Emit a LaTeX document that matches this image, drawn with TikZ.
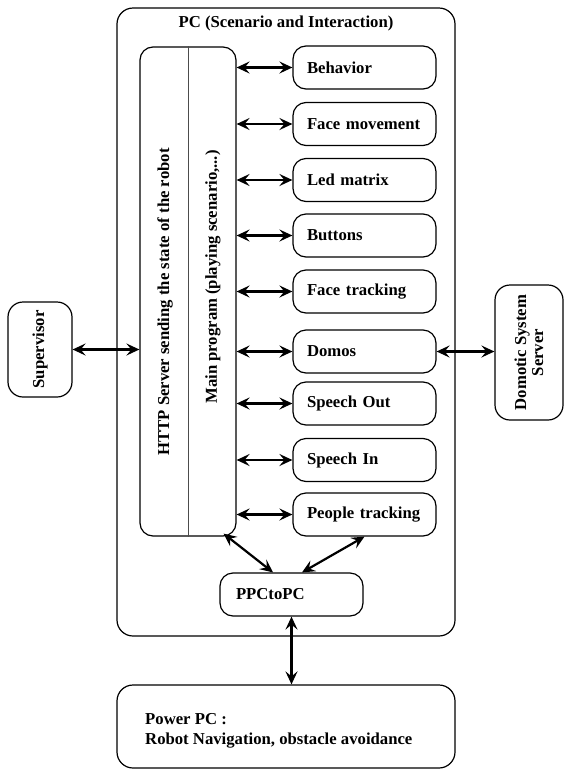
\documentclass[tikz,border=0pt]{standalone}
\usepackage{fontspec}
\setmainfont{Liberation Serif}
\usetikzlibrary{arrows.meta,calc}
\begin{document}
\begin{tikzpicture}[x=1pt,y=-1pt,
  font=\fontsize{16.7}{19}\selectfont\bfseries,
  box/.style={draw, line width=1.2pt, rounded corners=13pt, inner sep=0pt},
  modbox/.style={box, minimum width=143pt, minimum height=43pt, text width=115pt, align=left, inner xsep=14pt},
  arr/.style={line width=2.2pt, {Stealth[length=13pt,width=12pt,inset=5pt]}-{Stealth[length=13pt,width=12pt,inset=5pt]}}]
\useasboundingbox (0,0) rectangle (564,769);
% PC box
\node[box, rounded corners=16pt, minimum width=338pt, minimum height=628pt] (pc) at (286,322) {};
\node (pctitle) at (286,23) {PC (Scenario and Interaction)};
% main column box
\node[box, minimum width=96pt, minimum height=489pt] (main) at (188,291.5) {};
\draw[line width=0.8pt, black!70] (main.north) -- (main.south);
\node[rotate=90] (http) at (165,302) {HTTP Server sending the state of the robot};
\node[rotate=90] (mainprog) at (213,277) {Main program (playing scenario,...)};
% modules
\node[modbox] (beh) at (364.5,67.5) {Behavior};
\node[modbox] (fmv) at (364.5,124) {Face movement};
\node[modbox] (led) at (364.5,180) {Led matrix};
\node[modbox] (but) at (364.5,235.5) {Buttons};
\node[modbox] (ftr) at (364.5,291.5) {Face tracking};
\node[modbox] (dom) at (364.5,351.5) {Domos};
\node[modbox] (sout) at (364.5,403.5) {Speech Out};
\node[modbox] (sin) at (364.5,460) {Speech In};
\node[modbox] (ppl) at (364.5,514.5) {People tracking};
\foreach \m in {beh,fmv,led,but,ftr,dom,sout,sin,ppl}
  \draw[arr] (main.east |- \m.west) -- (\m.west);
% supervisor
\node[box, rounded corners=15pt, minimum width=64pt, minimum height=95pt] (sup) at (40,349.5) {};
\node[rotate=90] (suptxt) at (sup.center) {Supervisor};
\draw[arr] (sup.east) -- (main.west |- sup.east);
% domotic
\node[box, rounded corners=15pt, minimum width=68pt, minimum height=135pt] (dss) at (529,352.5) {};
\node[rotate=90, align=center, font=\fontsize{16.7}{17}\selectfont\bfseries] (dsstxt) at (dss.center) {Domotic System\\Server};
\draw[arr] (dom.east) -- (dss.west |- dom.east);
% PPCtoPC
\node[modbox] (ppc) at (291.5,594.5) {\hspace*{2pt}PPCtoPC};
\draw[arr] ($(main.south east)+(-13,-3)$) -- ($(ppc.north)+(-18.5,0)$);
\draw[arr] (ppl.south) -- ($(ppc.north)+(10.5,0)$);
% Power PC
\node[box, rounded corners=16pt, minimum width=338pt, minimum height=83pt] (power) at (286,726.5) {};
\node[anchor=west, align=left, inner sep=0pt, font=\fontsize{16.7}{20}\selectfont\bfseries] (powertxt) at (145,731) {Power PC :\\Robot Navigation, obstacle avoidance};
\draw[arr] (ppc.south) -- (ppc.south |- power.north);
\end{tikzpicture}
\end{document}
